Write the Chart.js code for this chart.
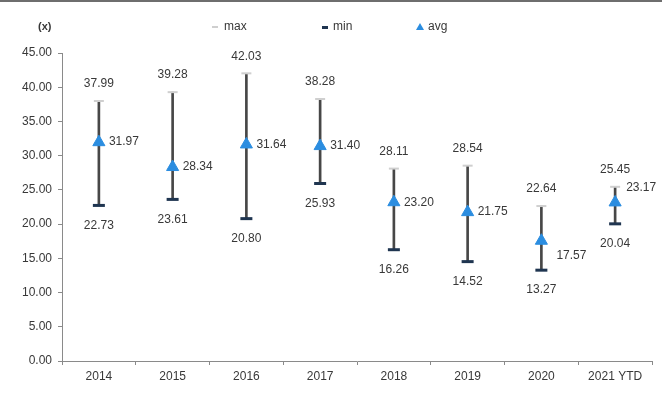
<!DOCTYPE html>
<html>
<head>
<meta charset="utf-8">
<script src="https://cdn.jsdelivr.net/npm/chart.js@4"></script>
<style>
  html, body { margin: 0; padding: 0; background: #fff; }
  #wrap { position: relative; width: 667px; height: 405px; }
  #topline { position: absolute; left: 0; top: 0; width: 662px; height: 2px; background: #6e6e6e; }
</style>
</head>
<body>
<div id="wrap">
  <canvas id="chart" width="667" height="405"></canvas>
  <div id="topline"></div>
</div>
<script>
// data
const years = ['2014', '2015', '2016', '2017', '2018', '2019', '2020', '2021 YTD'];
const maxVals = [37.99, 39.28, 42.03, 38.28, 28.11, 28.54, 22.64, 25.45];
const minVals = [22.73, 23.61, 20.80, 25.93, 16.26, 14.52, 13.27, 20.04];
const avgVals = [31.97, 28.34, 31.64, 31.40, 23.20, 21.75, 17.57, 23.17];

const textColor = '#383838';
const fontName = '"Liberation Sans", Arial, sans-serif';

// etiket angka di sekitar tiap batang
const labelPlugin = {
  id: 'labels',
  afterDatasetsDraw(chart) {
    const ctx = chart.ctx;
    const maxMeta = chart.getDatasetMeta(1);
    const minMeta = chart.getDatasetMeta(2);
    const avgMeta = chart.getDatasetMeta(3);
    ctx.save();
    ctx.font = '12px ' + fontName;
    ctx.fillStyle = textColor;
    ctx.textBaseline = 'middle';
    years.forEach((y, i) => {
      const pMax = maxMeta.data[i];
      const pMin = minMeta.data[i];
      const pAvg = avgMeta.data[i];
      ctx.textAlign = 'center';
      ctx.fillText(maxVals[i].toFixed(2), pMax.x, pMax.y - 17);
      ctx.fillText(minVals[i].toFixed(2), pMin.x, pMin.y + 20);
      ctx.textAlign = 'left';
      let dx = 10, dy = 0;
      if (i === 6) { dx = 15; dy = 15; }   // 2020 digeser ke bawah
      if (i === 7) { dx = 11; dy = -15; }  // 2021 digeser ke atas
      ctx.fillText(avgVals[i].toFixed(2), pAvg.x + dx, pAvg.y + dy);
    });
    ctx.restore();
  }
};

// legenda dan "(x)" di atas
const headerPlugin = {
  id: 'header',
  afterDraw(chart) {
    const ctx = chart.ctx;
    const yy = 27;
    ctx.save();
    ctx.font = 'bold 11px ' + fontName;
    ctx.fillStyle = textColor;
    ctx.textBaseline = 'middle';
    ctx.textAlign = 'left';
    ctx.fillText('(x)', 38, yy);
    ctx.font = '12px ' + fontName;
    // max
    ctx.fillStyle = '#cfcfcf';
    ctx.fillRect(212, yy - 1, 6, 2);
    ctx.fillStyle = textColor;
    ctx.fillText('max', 224, yy);
    // min
    ctx.fillStyle = '#1f3550';
    ctx.fillRect(322, yy - 1, 6, 3);
    ctx.fillStyle = textColor;
    ctx.fillText('min', 333, yy);
    // avg
    ctx.fillStyle = '#2b8de0';
    ctx.beginPath();
    ctx.moveTo(420, yy - 4);
    ctx.lineTo(424, yy + 3);
    ctx.lineTo(416, yy + 3);
    ctx.closePath();
    ctx.fill();
    ctx.fillStyle = textColor;
    ctx.fillText('avg', 428, yy);
    ctx.restore();
  }
};

const ctx = document.getElementById('chart').getContext('2d');
const chart = new Chart(ctx, {
  data: {
    labels: years,
    datasets: [
      {
        type: 'bar',
        label: 'range',
        data: minVals.map((m, i) => [m, maxVals[i]]),
        backgroundColor: '#474747',
        barThickness: 2,
        grouped: false,
        order: 4
      },
      {
        type: 'line',
        label: 'max',
        data: maxVals,
        showLine: false,
        pointStyle: 'line',
        pointRadius: 5,
        pointBorderWidth: 2,
        pointBorderColor: '#cfcfcf',
        borderColor: '#cfcfcf',
        order: 3
      },
      {
        type: 'line',
        label: 'min',
        data: minVals,
        showLine: false,
        pointStyle: 'line',
        pointRadius: 6,
        pointBorderWidth: 3,
        pointBorderColor: '#1f3550',
        borderColor: '#1f3550',
        order: 2
      },
      {
        type: 'line',
        label: 'avg',
        data: avgVals,
        showLine: false,
        pointStyle: 'triangle',
        pointRadius: 7,
        pointBackgroundColor: '#2b8de0',
        pointBorderColor: '#2b8de0',
        pointBorderWidth: 1,
        order: 1
      }
    ]
  },
  options: {
    responsive: false,
    animation: false,
    events: [],
    layout: { padding: { top: 53, right: 15, left: 0, bottom: 0 } },
    plugins: {
      legend: { display: false },
      tooltip: { enabled: false }
    },
    scales: {
      x: {
        offset: true,
        grid: { display: true, drawOnChartArea: false, offset: true, tickLength: 4, color: '#8a8a8a' },
        border: { color: '#8a8a8a', width: 1 },
        ticks: { color: textColor, font: { family: fontName, size: 12 }, padding: 4, maxRotation: 0 },
        afterFit: s => { s.height = 44; }
      },
      y: {
        min: 0,
        max: 45,
        grid: { display: true, drawOnChartArea: false, tickLength: 4, color: '#8a8a8a' },
        border: { color: '#8a8a8a', width: 1 },
        ticks: {
          stepSize: 5,
          color: textColor,
          font: { family: fontName, size: 12 },
          padding: 6,
          callback: v => v.toFixed(2)
        },
        afterFit: s => { s.width = 62; }
      }
    }
  },
  plugins: [labelPlugin, headerPlugin]
});
</script>
</body>
</html>
